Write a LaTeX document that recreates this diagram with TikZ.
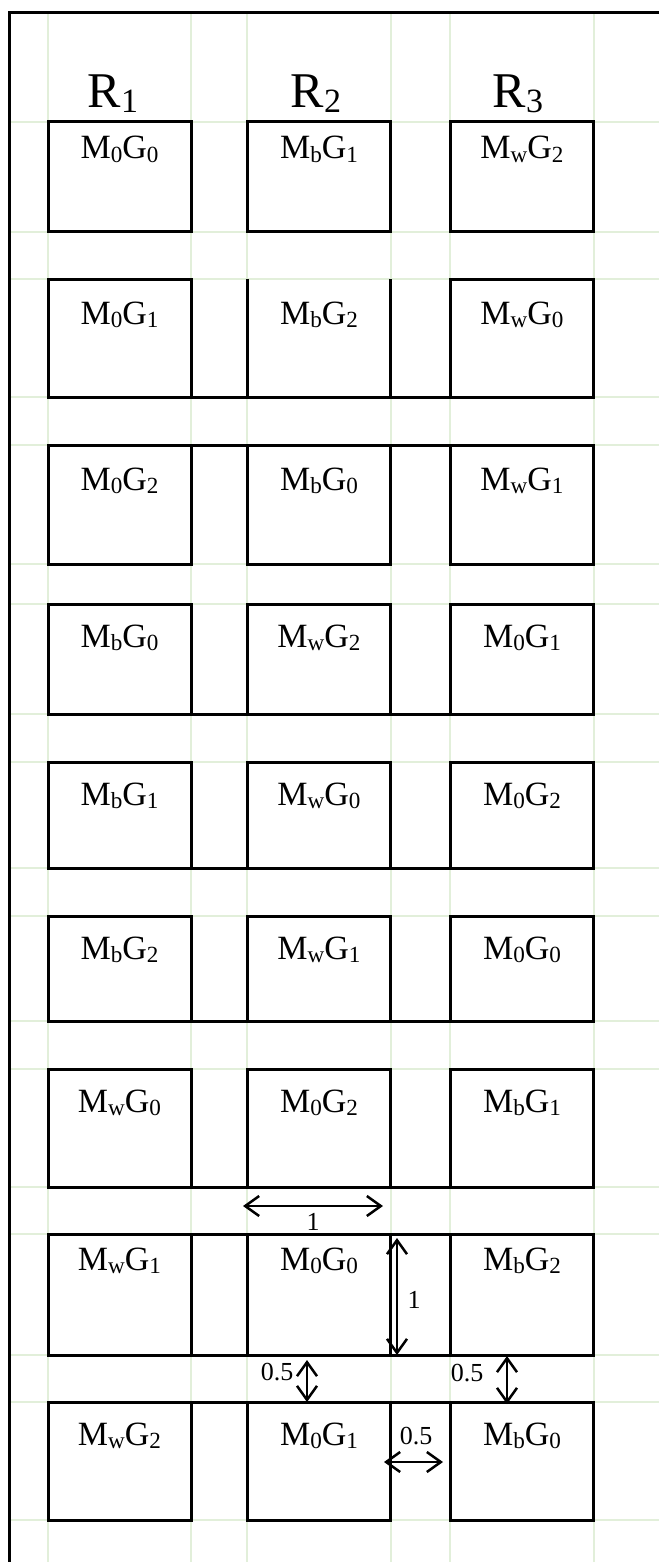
\documentclass[tikz,border=0pt]{standalone}
\usepackage{fontspec}
\usepackage{graphicx}
\setmainfont{Liberation Serif}
\usetikzlibrary{arrows.meta}
\definecolor{gridgreen}{RGB}{226,239,218}
\newcommand\lowsub[1]{\raisebox{-0.1em}{\scalebox{0.68}{#1}}}
\newcommand\mgtxt[2]{M\lowsub{#1}G\lowsub{#2}}
\begin{document}
\begin{tikzpicture}[x=1pt,y=-1pt,
  gridline/.style={draw=gridgreen,line width=2pt},
  frameline/.style={draw=black,line width=3pt},
  cell/.style={draw=black,line width=3pt,minimum width=143pt,inner sep=0pt,outer sep=0pt},
  nocell/.style={draw=none,minimum width=143pt,inner sep=0pt,outer sep=0pt},
  celltext/.style={font=\fontsize{34}{38}\selectfont,inner sep=0pt,anchor=base},
  head/.style={font=\fontsize{50}{56}\selectfont,inner sep=0pt,anchor=base},
  dimtext/.style={font=\fontsize{26}{30}\selectfont,inner sep=0pt},
  dimarrow/.style={line width=2.5pt,{Straight Barb[length=14pt,width=20pt]}-{Straight Barb[length=14pt,width=20pt]}}]
\useasboundingbox (0,0) rectangle (659,1562);
% grid
\foreach \gx in {48,191,247,391,450,594} \draw[gridline] (\gx,13) -- (\gx,1562);
\foreach \gy in {122,232,279,397,445,564,604,714,762,868,916,1021,1069,1187,1234,1355,1402,1520}
  \draw[gridline] (9,\gy) -- (659,\gy);
% frame
\coordinate (fTL) at (9,13);
\coordinate (fTR) at (659,13);
\coordinate (fBL) at (9,1562);
\draw[frameline] (fTR) -- (fTL) -- (fBL);
% headings
\node[head] (h1) at (113,108) {R\lowsub{1}};
\node[head] (h2) at (316,108) {R\lowsub{2}};
\node[head] (h3) at (518,108) {R\lowsub{3}};
% boxes
\foreach \r/\t/\b/\o/\ta/\tb/\tc in {
  1/122/232/37/{\mgtxt{0}{0}}/{\mgtxt{b}{1}}/{\mgtxt{w}{2}},
  2/279/397/45/{\mgtxt{0}{1}}/{\mgtxt{b}{2}}/{\mgtxt{w}{0}},
  3/445/564/45/{\mgtxt{0}{2}}/{\mgtxt{b}{0}}/{\mgtxt{w}{1}},
  4/604/714/43/{\mgtxt{b}{0}}/{\mgtxt{w}{2}}/{\mgtxt{0}{1}},
  5/762/868/43/{\mgtxt{b}{1}}/{\mgtxt{w}{0}}/{\mgtxt{0}{2}},
  6/916/1021/43/{\mgtxt{b}{2}}/{\mgtxt{w}{1}}/{\mgtxt{0}{0}},
  7/1069/1187/43/{\mgtxt{w}{0}}/{\mgtxt{0}{2}}/{\mgtxt{b}{1}},
  8/1234/1355/36/{\mgtxt{w}{1}}/{\mgtxt{0}{0}}/{\mgtxt{b}{2}},
  9/1402/1520/43/{\mgtxt{w}{2}}/{\mgtxt{0}{1}}/{\mgtxt{b}{0}}}
{
  \pgfmathsetmacro\h{\b-\t}
  \pgfmathsetmacro\cy{(\b+\t)/2}
  \pgfmathsetmacro\ty{\t+\o}
  \ifnum\r=2
    \node[cell,minimum height=\h pt] (b\r1) at (119.5,\cy) {};
    \node[nocell,minimum height=\h pt] (b\r2) at (319,\cy) {};
    \node[cell,minimum height=\h pt] (b\r3) at (522,\cy) {};
  \else
    \node[cell,minimum height=\h pt] (b\r1) at (119.5,\cy) {};
    \node[cell,minimum height=\h pt] (b\r2) at (319,\cy) {};
    \node[cell,minimum height=\h pt] (b\r3) at (522,\cy) {};
  \fi
  \node[celltext] (t\r1) at (119.5,\ty) {\ta};
  \node[celltext] (t\r2) at (319,\ty) {\tb};
  \node[celltext] (t\r3) at (522,\ty) {\tc};
}
% open-top box of row 2 and joining lines
\draw[frameline] (b22.north west) -- (b22.south west);
\draw[frameline] (b22.north east) -- (b22.south east);
\draw[frameline] (b21.south east) -- (b23.south west);
\foreach \r in {4,5,6,7,8} \draw[frameline] (b\r1.south east) -- (b\r3.south west);
\foreach \r in {3,8,9} \draw[frameline] (b\r1.north east) -- (b\r3.north west);
% dimension arrows
\coordinate (a1l) at (243,1206);
\coordinate (a1r) at (383,1206);
\draw[dimarrow] (a1l) -- (a1r);
\node[dimtext] (l1) at (313,1222) {1};
\coordinate (a2t) at (397,1238);
\coordinate (a2b) at (397,1355);
\draw[dimarrow] (a2t) -- (a2b);
\node[dimtext] (l2) at (414,1300) {1};
\coordinate (a3t) at (307,1360);
\coordinate (a3b) at (307,1402);
\draw[dimarrow] (a3t) -- (a3b);
\node[dimtext] (l3) at (277,1372) {0.5};
\coordinate (a4t) at (507,1356);
\coordinate (a4b) at (507,1404);
\draw[dimarrow] (a4t) -- (a4b);
\node[dimtext] (l4) at (467,1373) {0.5};
\coordinate (a5l) at (384,1462);
\coordinate (a5r) at (443,1462);
\draw[dimarrow] (a5l) -- (a5r);
\node[dimtext] (l5) at (416,1436) {0.5};
\end{tikzpicture}
\end{document}
